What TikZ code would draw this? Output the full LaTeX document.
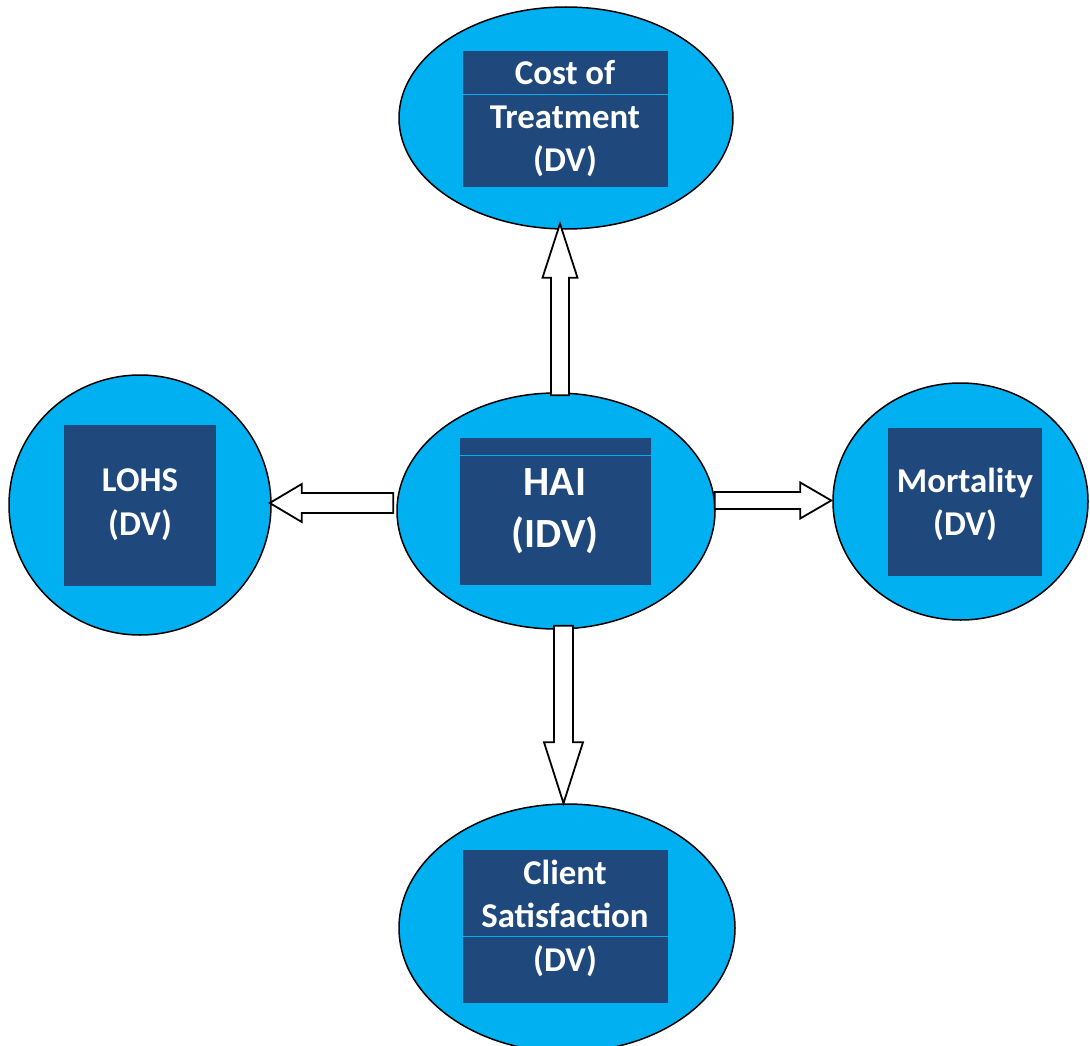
\documentclass[tikz,border=0pt]{standalone}
\usepackage{fontspec}
\setmainfont{Carlito}
\usetikzlibrary{shapes.geometric,calc}

\definecolor{skyfill}{HTML}{00B0F0}
\definecolor{navybox}{HTML}{1F497D}

\tikzset{
  bubble/.style={ellipse, draw=black, line width=1.5pt, fill=skyfill, inner sep=0pt},
  varbox/.style={rectangle, fill=navybox, inner sep=0pt},
  label/.style={text=white, align=center, font=\fontsize{34.8}{43.5}\selectfont\bfseries},
  biglabel/.style={text=white, align=center, font=\fontsize{41.5}{52}\selectfont\bfseries},
  sepline/.style={draw=skyfill, line width=0.8pt},
  blockarrow/.style={draw=black, fill=white, line width=1.8pt, line join=miter},
}

% block arrow: #1 start, #2 tip, #3 half shaft width, #4 half head width, #5 head length, #6 name prefix
\newcommand\blkarrow[6]{%
  \coordinate (#6h) at ($(#2)!#5!(#1)$);
  \draw[blockarrow] ($(#1)!#3!90:(#2)$) -- ($(#6h)!#3!90:(#2)$) -- ($(#6h)!#4!90:(#2)$)
    -- (#2) -- ($(#6h)!#4!-90:(#2)$) -- ($(#6h)!#3!-90:(#2)$) -- ($(#1)!#3!-90:(#2)$) -- cycle;
}

\begin{document}
\begin{tikzpicture}[x=1pt, y=-1pt]
\useasboundingbox (0,0) rectangle (1090,1046);

% variable bubbles
\node[bubble, minimum width=334pt, minimum height=222pt] (cost)   at (566,118) {};
\node[bubble, minimum width=318pt, minimum height=236pt] (hai)    at (556,511) {};
\node[bubble, minimum width=336pt, minimum height=248pt] (client) at (567,928) {};
\node[bubble, minimum width=262pt, minimum height=260pt] (lohs)   at (140,505) {};
\node[bubble, minimum width=255pt, minimum height=237pt] (mort)   at (960.5,501.5) {};

% dark label boxes
\node[varbox, minimum width=205pt, minimum height=136pt] (costbox)   at (565.5,119) {};
\node[varbox, minimum width=191pt, minimum height=147pt] (haibox)    at (555.5,511.5) {};
\node[varbox, minimum width=205pt, minimum height=153pt] (clientbox) at (565.5,926.5) {};
\node[varbox, minimum width=152pt, minimum height=161pt] (lohsbox)   at (140,505.5) {};
\node[varbox, minimum width=154pt, minimum height=148pt] (mortbox)   at (965,502) {};

% row separators
\draw[sepline] (costbox.west |- 0,94) -- (costbox.east |- 0,94);
\draw[sepline] (haibox.west |- 0,455) -- (haibox.east |- 0,455);
\draw[sepline] (clientbox.west |- 0,936) -- (clientbox.east |- 0,936);

% labels
\node[label] (costtxt) at (565,119) {Cost of\\Treatment\\(DV)};
\node[biglabel] (haitxt) at (555,511) {HAI\\(IDV)};
\node[label] (clienttxt) at (565,918) {Client\\Satisfaction\\(DV)};
\node[label] (lohstxt) at (140,504.5) {LOHS\\(DV)};
\node[label] (morttxt) at (965,504.5) {Mortality\\(DV)};

% arrows from the independent variable
\coordinate (upS) at ($(hai.north)+(4,3)$);
\coordinate (upE) at ($(cost.south)+(-6,-6)$);
\blkarrow{upS}{upE}{9pt}{17.5pt}{54pt}{up}

\coordinate (dnS) at ($(hai.south)+(7.5,-4)$);
\coordinate (dnE) at ($(client.north)+(-3.5,0)$);
\blkarrow{dnS}{dnE}{9.5pt}{19.5pt}{61pt}{dn}

\coordinate (ltS) at ($(hai.west)+(-3,-8)$);
\coordinate (ltE) at ($(lohs.east)+(-2,-2)$);
\blkarrow{ltS}{ltE}{10pt}{19pt}{32pt}{lt}

\coordinate (rtS) at ($(hai.east)+(-1,-10.5)$);
\coordinate (rtE) at ($(mort.west)+(-1,-1)$);
\blkarrow{rtS}{rtE}{8.5pt}{18pt}{31pt}{rt}
\end{tikzpicture}
\end{document}
